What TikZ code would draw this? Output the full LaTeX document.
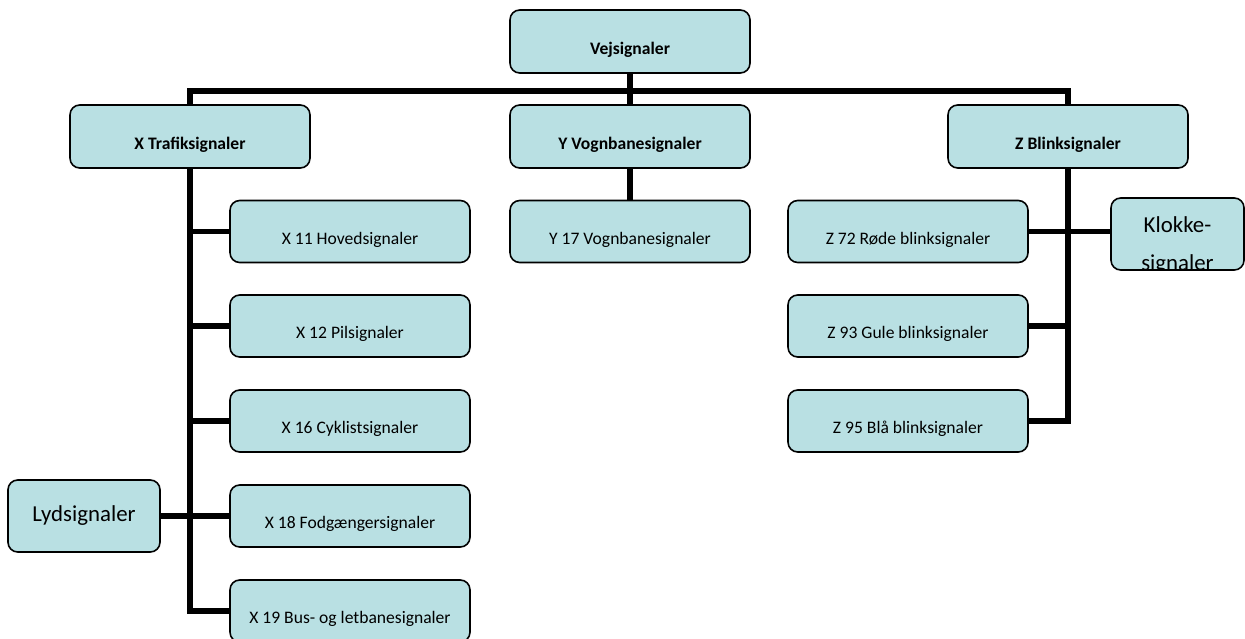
\documentclass[tikz,border=0pt]{standalone}
\usepackage{fontspec}
\setmainfont{Carlito}
\definecolor{Boksfarve}{RGB}{185,224,227}
\usetikzlibrary{positioning}

\begin{document}
\begin{tikzpicture}[x=0.02cm, y=-0.02cm,
  hoved/.style ={rectangle, rounded corners=5.5pt,
                 draw=black, line width=0.9pt, fill=Boksfarve,
                 minimum width=4.8cm, minimum height=1.26cm,
                 align=center, text height=15pt, text depth=0pt,
                 font=\fontsize{10}{12}\selectfont\bfseries},
  under/.style ={rectangle, rounded corners=5.5pt,
                 draw=black, line width=0.9pt, fill=Boksfarve,
                 minimum width=4.8cm, minimum height=1.24cm,
                 align=center, text height=14.5pt, text depth=0pt,
                 font=\fontsize{10}{12}\selectfont},
  stor/.style  ={rectangle, rounded corners=5.5pt,
                 draw=black, line width=0.9pt, fill=Boksfarve,
                 minimum height=1.44cm, align=center,
                 font=\fontsize{13}{20}\selectfont},
  forb/.style  ={line width=3.3pt, color=black},
]
\useasboundingbox (0,0) rectangle (1245,639);

%% ═══════════════ TOP ═══════════════
\node[hoved] (VS) at (630, 41.5) {Vejsignaler};
\node[hoved] (XT) at (190, 136.5) {X Trafiksignaler};
\node[hoved] (YV) at (630, 136.5) {Y Vognbanesignaler};
\node[hoved] (ZB) at (1068, 136.5) {Z Blinksignaler};

\coordinate (skinne) at (630, 91);
\draw[forb] (XT.north) -- (XT.north |- skinne) -- (ZB.north |- skinne) -- (ZB.north);
\draw[forb] (VS.south) -- (YV.north);

%% ═══════════════ X (venstre) ═══════════════
\node[under] (X11) at (350, 231.5) {X 11 Hovedsignaler};
\node[under] (X12) at (350, 326) {X 12 Pilsignaler};
\node[under] (X16) at (350, 421) {X 16 Cyklistsignaler};
\node[under] (X18) at (350, 516) {X 18 Fodgængersignaler};
\node[under] (X19) at (350, 611) {X 19 Bus- og letbanesignaler};
\node[stor, minimum width=3.04cm] (Lyd) at (84, 516) {Lydsignaler};

\draw[forb] (XT.south) |- (X19.west);
\foreach \n in {X11, X12, X16, X18}
  \draw[forb] (\n.west) -- (\n.west -| XT.south);
\draw[forb] (Lyd.east) -- (X18.west);

%% ═══════════════ Y (midte) ═══════════════
\node[under] (Y17) at (630, 231.5) {Y 17 Vognbanesignaler};
\draw[forb] (YV.south) -- (Y17.north);

%% ═══════════════ Z (højre) ═══════════════
\node[under] (Z72) at (908, 231.5) {Z 72 Røde blinksignaler};
\node[under] (Z93) at (908, 326) {Z 93 Gule blinksignaler};
\node[under] (Z95) at (908, 421) {Z 95 Blå blinksignaler};
\node[stor, minimum width=2.66cm,
      path picture={
        \node[anchor=base, font=\fontsize{13}{20}\selectfont]
          at ([yshift=-19.5pt]path picture bounding box.north) {Klokke-};
        \node[anchor=base, font=\fontsize{13}{20}\selectfont]
          at ([yshift=-41.5pt]path picture bounding box.north) {signaler};
      }] (Kl) at (1177.5, 234) {};

\draw[forb] (ZB.south) |- (Z95.east);
\draw[forb] (Z93.east) -- (Z93.east -| ZB.south);
\draw[forb] (Z72.east) -- (Z72.east -| Kl.west);

\end{tikzpicture}
\end{document}
